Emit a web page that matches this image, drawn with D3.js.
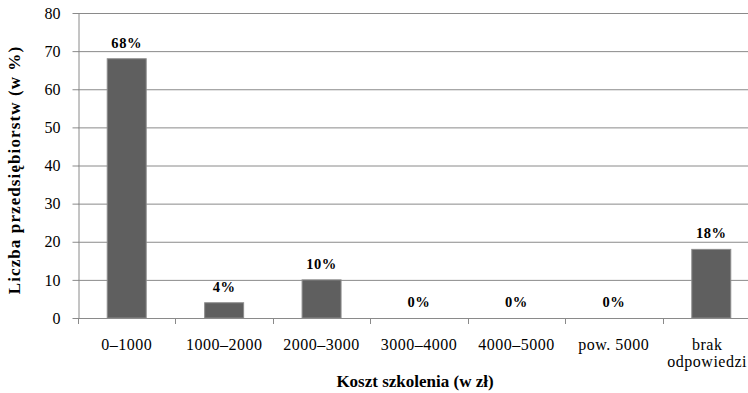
<!DOCTYPE html>
<html>
<head>
<meta charset="utf-8">
<script src="https://cdn.jsdelivr.net/npm/d3@7"></script>
<style>
  html, body { margin: 0; padding: 0; background: #fff; }
  svg { display: block; }
  text { font-family: "Liberation Serif", "Times New Roman", serif; fill: #000; }
</style>
</head>
<body>
<svg id="chart" width="748" height="393"></svg>
<script>
// Koszt szkolenia – rozkład odpowiedzi
const categories = ["0–1000", "1000–2000", "2000–3000", "3000–4000", "4000–5000", "pow. 5000", "brak odpowiedzi"];
const values = [68, 4, 10, 0, 0, 0, 18];
const valueLabels = ["68%", "4%", "10%", "0%", "0%", "0%", "18%"];
const yTicks = [0, 10, 20, 30, 40, 50, 60, 70, 80];

const W = 748;
const svg = d3.select("#chart");
const margin = { left: 78, top: 13 };
const plotRight = 760;
const plotBottom = 318;

const x = d3.scaleBand()
  .domain(categories)
  .range([margin.left, plotRight])
  .paddingInner(0.6)
  .paddingOuter(0.3);

const xEdges = d3.scaleBand().domain(categories).range([margin.left, plotRight]);

const y = d3.scaleLinear().domain([0, 80]).range([plotBottom, margin.top]);

const gridColor = "#8a8a8a";

// gridlines
svg.append("g")
  .selectAll("line")
  .data(yTicks.filter(d => d > 0))
  .join("line")
  .attr("x1", margin.left).attr("x2", plotRight)
  .attr("y1", d => y(d) + 0.5).attr("y2", d => y(d) + 0.5)
  .attr("stroke", gridColor).attr("stroke-width", 1);

// y axis
const yAxis = svg.append("g")
  .attr("transform", `translate(${margin.left + 0.5},0)`)
  .call(d3.axisLeft(y).tickValues(yTicks).tickSize(6).tickPadding(12).tickSizeOuter(0));
yAxis.select(".domain").attr("stroke", gridColor);
yAxis.selectAll(".tick line").attr("stroke", gridColor);
yAxis.selectAll(".tick text")
  .attr("font-family", "Liberation Serif, Times New Roman, serif")
  .attr("font-size", 16).attr("fill", "#000");

// x axis baseline and tick marks at category boundaries
svg.append("line")
  .attr("x1", margin.left).attr("x2", plotRight)
  .attr("y1", y(0) + 0.5).attr("y2", y(0) + 0.5)
  .attr("stroke", gridColor);
svg.append("g")
  .selectAll("line")
  .data(categories)
  .join("line")
  .attr("x1", d => Math.round(xEdges(d)) + 0.5)
  .attr("x2", d => Math.round(xEdges(d)) + 0.5)
  .attr("y1", y(0)).attr("y2", y(0) + 6)
  .attr("stroke", gridColor);

// bars
svg.append("g")
  .selectAll("rect")
  .data(values)
  .join("rect")
  .attr("x", (d, i) => x(categories[i]))
  .attr("width", x.bandwidth())
  .attr("y", d => y(d))
  .attr("height", d => y(0) - y(d))
  .attr("fill", "#5f5f5f")
  .attr("stroke", "#8c8c8c")
  .attr("stroke-width", d => d > 0 ? 1 : 0);

// value labels
svg.append("g")
  .selectAll("text")
  .data(values)
  .join("text")
  .attr("x", (d, i) => x(categories[i]) + x.bandwidth() / 2)
  .attr("y", d => y(d) - 11)
  .attr("text-anchor", "middle")
  .attr("font-weight", "bold")
  .attr("font-size", 14.5)
  .attr("letter-spacing", 0.6)
  .text((d, i) => valueLabels[i]);

// category labels (the last, two-line label is kept inside the canvas)
const catG = svg.append("g");
categories.forEach(c => {
  const cx = xEdges(c) + xEdges.bandwidth() / 2;
  const parts = c === "brak odpowiedzi" ? ["brak", "odpowiedzi"] : [c];
  const t = catG.append("text")
    .attr("y", 350)
    .attr("text-anchor", "middle")
    .attr("font-size", 16)
    .attr("letter-spacing", 0.5);
  const spans = parts.map((p, k) =>
    t.append("tspan").attr("x", cx).attr("dy", k === 0 ? 0 : 17).text(p));
  const widest = d3.max(spans, s => s.node().getComputedTextLength());
  const fitted = Math.min(cx, W - 1 - widest / 2);
  spans.forEach(s => s.attr("x", fitted));
});

// axis titles
svg.append("text")
  .attr("x", 415).attr("y", 387)
  .attr("text-anchor", "middle")
  .attr("font-weight", "bold")
  .attr("font-size", 17)
  .text("Koszt szkolenia (w zł)");

svg.append("text")
  .attr("transform", "translate(20,170) rotate(-90)")
  .attr("text-anchor", "middle")
  .attr("font-weight", "bold")
  .attr("font-size", 17)
  .attr("letter-spacing", 1.1)
  .text("Liczba przedsiębiorstw  (w %)");
</script>
</body>
</html>
